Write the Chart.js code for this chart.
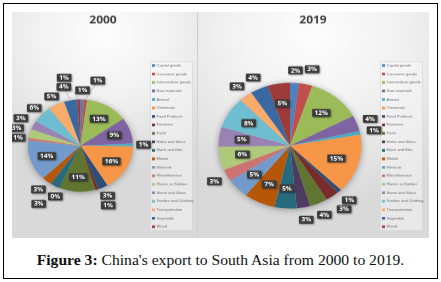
<!DOCTYPE html>
<html><head><meta charset="utf-8">
<script src="https://cdn.jsdelivr.net/npm/chart.js@4/dist/chart.umd.min.js"></script>
<style>
html,body{margin:0;padding:0;background:#fff;}
body{width:441px;height:282px;position:relative;overflow:hidden;}
#frame{position:absolute;left:3px;top:3px;width:435px;height:276px;border:1px solid #000;box-sizing:border-box;}
.panel{position:absolute;top:12px;transform-origin:0 0;transform:scaleY(0.8794);}
#p1{left:12px;width:185px;height:257px;}
#p2{left:198px;width:231px;height:257px;}
#sep{position:absolute;left:197px;top:12px;width:1px;height:226px;background:#cfcfcf;}
#caption{position:absolute;left:0;width:441px;top:251px;text-align:center;font-family:"Liberation Serif",serif;font-size:14px;color:#111;white-space:nowrap;}
</style></head>
<body>
<div id="frame"></div>
<div class="panel" id="p1"><canvas id="c1" width="185" height="257"></canvas></div>
<div id="sep"></div>
<div class="panel" id="p2"><canvas id="c2" width="231" height="257"></canvas></div>
<div id="caption"><span id="capText"><b>Figure 3:</b> China's export to South Asia from 2000 to 2019.</span></div>
<script>
const categories = ["Capital goods","Consumer goods","Intermediate goods","Raw materials","Animal","Chemicals","Food Products","Footwear","Fuels","Hides and Skins","Mach and Elec","Metals","Minerals","Miscellaneous","Plastic or Rubber","Stone and Glass","Textiles and Clothing","Transportation","Vegetable","Wood"];
const share2000 = [1,1,13,9,1,16,3,1,11,0,3,3,14,1,3,3,6,5,4,1];
const share2019 = [2,3,12,4,1,15,1,3,4,3,5,7,5,3,6,5,8,3,4,5];
const sliceColors = ["#4F81BD","#C0504D","#9BBB59","#8064A2","#4BACC6","#F79646","#2C4D75","#772C2A","#5F7530","#4D3B62","#276A7C","#B65708","#729ACA","#CD7371","#AFC97A","#9983B5","#6FBDD1","#F9AB6B","#3A68A0","#9D3B38"];

const panelDecor = {
  id:'panelDecor',
  beforeDraw(chart, args, o){
    const ctx = chart.ctx, w = chart.width, h = chart.height;
    ctx.save();
    const g = ctx.createRadialGradient(w/2, h*0.1, 0, w/2, h*0.1, w*0.85);
    g.addColorStop(0,'#fdfdfd'); g.addColorStop(0.45,'#f1f1f1'); g.addColorStop(1,'#d9d9d9');
    ctx.fillStyle = g; ctx.fillRect(0,0,w,h);
    ctx.fillStyle = '#3f3f3f';
    ctx.font = 'bold 12px "Open Sans", sans-serif';
    ctx.textAlign = 'center'; ctx.textBaseline = 'middle';
    ctx.fillText(o.title, o.titleX, 9.5);
    const lx = o.legendX, ly = 56, lw = 43, lh = 193;
    ctx.fillStyle = 'rgba(250,250,250,0.45)';
    ctx.fillRect(lx, ly, lw, lh);
    ctx.strokeStyle = 'rgba(205,205,205,0.9)'; ctx.lineWidth = 0.6;
    ctx.strokeRect(lx+0.5, ly+0.5, lw-1, lh-1);
    const labels = chart.data.labels, cols = chart.data.datasets[0].backgroundColor;
    const step = lh / labels.length;
    ctx.textAlign = 'left';
    ctx.font = '4px "Liberation Sans", sans-serif';
    labels.forEach((lab, i) => {
      const y = ly + step*(i+0.5);
      ctx.fillStyle = cols[i];
      ctx.fillRect(lx+2, y-1.5, 3, 3);
      ctx.fillStyle = '#6a6a6a';
      ctx.fillText(lab, lx+6.5, y);
    });
    ctx.restore();
  }
};

const pieShadow = {
  id:'pieShadow',
  beforeDatasetsDraw(chart){
    const a = chart.getDatasetMeta(0).data[0];
    if(!a) return;
    const ctx = chart.ctx;
    ctx.save();
    ctx.shadowColor = 'rgba(0,0,0,0.35)'; ctx.shadowBlur = 7; ctx.shadowOffsetY = 1;
    ctx.fillStyle = '#bbbbbb';
    ctx.beginPath(); ctx.arc(a.x, a.y, a.outerRadius, 0, Math.PI*2); ctx.fill();
    ctx.restore();
  }
};

const pctLabels = {
  id:'pctLabels',
  afterDatasetsDraw(chart, args, o){
    const ctx = chart.ctx, meta = chart.getDatasetMeta(0), vals = chart.data.datasets[0].data;
    ctx.save();
    ctx.font = 'bold 6.5px "Open Sans", sans-serif';
    ctx.textAlign = 'center'; ctx.textBaseline = 'middle';
    const placed = [], items = [];
    meta.data.forEach((arc, i) => {
      const p = arc.getProps(['x','y','startAngle','endAngle','outerRadius'], true);
      const v = vals[i];
      const mid = (p.startAngle + p.endAngle)/2;
      const txt = Math.round(v) + '%';
      const bw = ctx.measureText(txt).width + 5, bh = 9;
      const inside = v >= o.insideMin;
      const r0 = inside ? p.outerRadius*0.68 : p.outerRadius*1.2;
      const bx = p.x + Math.cos(mid)*r0, by = p.y + Math.sin(mid)*r0;
      const dx = Math.cos(mid) >= 0 ? 1 : -1, dy = Math.sin(mid) >= 0 ? 1 : -1;
      let x = bx, y = by, moved = false;
      if(!inside){
        for(let k=0;k<40;k++){
          x = bx + dx*k*1.6; y = by + dy*k*1.6;
          const hit = placed.some(q => Math.abs(q.x-x) < (q.w+bw)/2+1 && Math.abs(q.y-y) < bh+1);
          if(!hit){ moved = k > 2; break; }
        }
      }
      placed.push({x, y, w:bw});
      items.push({x, y, bw, bh, txt, lead: moved, p, mid});
    });
    items.forEach(it => {
      if(it.lead){
        ctx.strokeStyle = '#a8a8a8'; ctx.lineWidth = 0.6;
        ctx.beginPath();
        ctx.moveTo(it.p.x + Math.cos(it.mid)*it.p.outerRadius, it.p.y + Math.sin(it.mid)*it.p.outerRadius);
        ctx.lineTo(it.x, it.y);
        ctx.stroke();
      }
    });
    items.forEach(it => {
      ctx.save();
      ctx.shadowColor = 'rgba(0,0,0,0.45)'; ctx.shadowBlur = 2; ctx.shadowOffsetX = 0.8; ctx.shadowOffsetY = 0.8;
      ctx.fillStyle = '#3c3c3c';
      ctx.beginPath();
      ctx.roundRect(it.x - it.bw/2, it.y - it.bh/2, it.bw, it.bh, 1);
      ctx.fill();
      ctx.restore();
      ctx.fillStyle = '#ffffff';
      ctx.fillText(it.txt, it.x, it.y + 0.3);
    });
    ctx.restore();
  }
};

function makeChart(id, title, values, o){
  return new Chart(document.getElementById(id), {
    type:'pie',
    data:{labels:categories, datasets:[{data:values, backgroundColor:sliceColors, borderWidth:0}]},
    options:{
      responsive:false, animation:false, devicePixelRatio:1,
      layout:{padding:{left:o.padLeft, right:o.padRight, top:47, bottom:0}},
      plugins:{
        legend:{display:false}, tooltip:{enabled:false}, title:{display:false},
        panelDecor:{title:title, titleX:o.titleX, legendX:o.legendX},
        pctLabels:{insideMin:o.insideMin}
      }
    },
    plugins:[panelDecor, pieShadow, pctLabels]
  });
}

makeChart('c1', '2000', share2000, {padLeft:16, padRight:64, titleX:91, legendX:138, insideMin:9});
makeChart('c2', '2019', share2019, {padLeft:20.5, padRight:67.5, titleX:115, legendX:182, insideMin:5});

const cap = document.getElementById('capText');
const wNow = cap.getBoundingClientRect().width;
if(wNow > 0){ document.getElementById('caption').style.fontSize = (14*368/wNow).toFixed(2)+'px'; }
</script>
</body></html>
